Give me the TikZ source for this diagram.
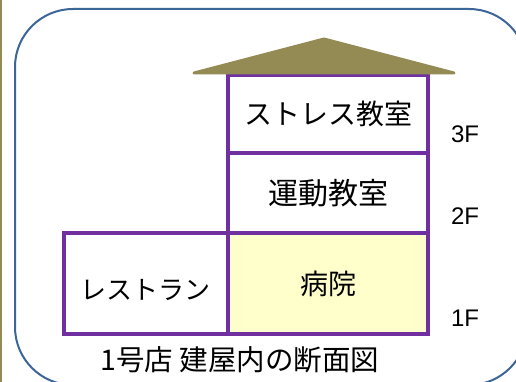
\documentclass[tikz,border=0pt]{standalone}
\usepackage{fontspec}
\setmainfont{Liberation Sans}
\newfontfamily\jpfont{Noto Sans CJK JP}
\usepackage{xcolor}
\definecolor{frameblue}{HTML}{3C6698}
\definecolor{wallpurple}{HTML}{7030A0}
\definecolor{roofolive}{HTML}{948A54}
\definecolor{clinicyellow}{HTML}{FFFFCC}
\begin{document}
\begin{tikzpicture}[x=1pt,y=-1pt,
  room/.style={draw=wallpurple, line width=4pt, inner sep=0pt, font=\jpfont\fontsize{28}{30}\selectfont},
  floor/.style={inner sep=0pt, font=\fontsize{24}{26}\selectfont}]
\useasboundingbox (0,0) rectangle (516,382);
\fill[white] (0,0) rectangle (516,382);
\fill[roofolive] (0,0) rectangle (2,382);

\draw[frameblue, line width=2pt, rounded corners=58pt] (15,9) rectangle (527,385);

\node[room, minimum width=200pt, minimum height=78pt] (stress) at (328,114) {ストレス教室};
\node[room, minimum width=200pt, minimum height=80pt, font=\jpfont\fontsize{30}{32}\selectfont] (gym) at (328,193) {運動教室};
\node[room, fill=clinicyellow, minimum width=200pt, minimum height=101pt] (clinic) at (328,283.5) {病院};
\node[room, minimum width=164pt, minimum height=101pt, font=\jpfont\fontsize{26}{28}\selectfont] (cafe) at (146,283.5) {};
\node[font=\jpfont\fontsize{26}{28}\selectfont, inner sep=0pt] (cafelabel) at (145,290) {レストラン};

\filldraw[draw=roofolive, fill=roofolive, line width=3pt, line join=round] (194,73) -- (324,39) -- (454,73) -- cycle;

\node[floor] (f3) at (465,134) {3F};
\node[floor] (f2) at (465,216) {2F};
\node[floor] (f1) at (465,318) {1F};

\node[font=\jpfont\fontsize{28.5}{30}\selectfont, inner sep=0pt] (caption) at (240,360) {1号店 建屋内の断面図};
\end{tikzpicture}
\end{document}
